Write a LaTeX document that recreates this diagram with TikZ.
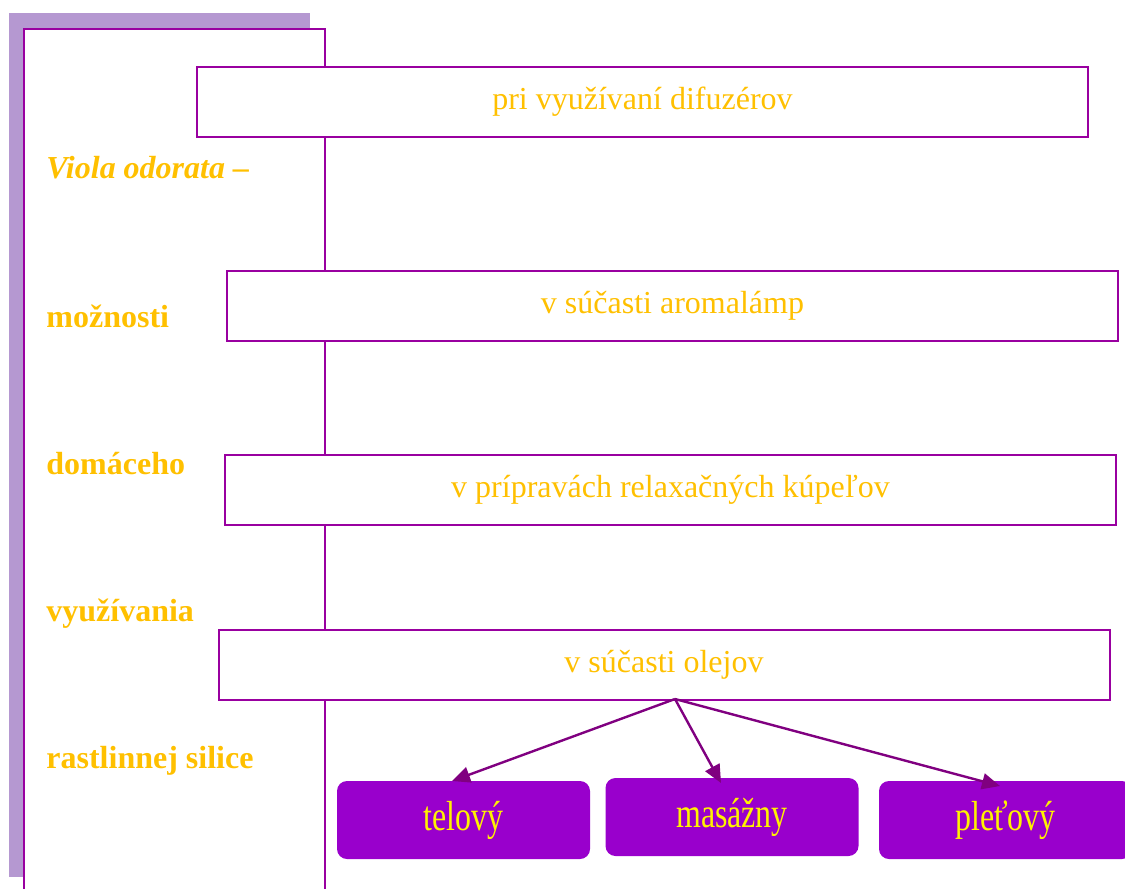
\documentclass[tikz,border=0pt]{standalone}
\usepackage{fontspec}
\setmainfont{Liberation Serif}
\usepackage{tikz}
\usetikzlibrary{arrows.meta, positioning}
\definecolor{framec}{HTML}{9900A0}
\definecolor{lavender}{HTML}{B598D1}
\definecolor{gold}{HTML}{FFC000}
\definecolor{leaffill}{HTML}{9900CC}
\definecolor{arrowc}{HTML}{800080}
\tikzset{
  usebox/.style={shape=rectangle, minimum height=35pt, minimum width=445.5pt, draw=framec, line width=1pt, fill=white, text=gold, font=\fontsize{16}{18}\selectfont},
  leaf/.style={shape=rectangle, rounded corners=5pt, minimum height=39pt, minimum width=126.5pt, fill=leaffill, text=yellow, font=\fontsize{21}{23}\selectfont},
  side/.style={anchor=base west, inner sep=0pt, text=gold, font=\fontsize{16}{18}\selectfont\bfseries},
  link/.style={draw=arrowc, line width=1.2pt, -{Triangle[length=9pt,width=8pt]}}
}
\begin{document}
\begin{tikzpicture}[x=0.5pt, y=-0.5pt]
\useasboundingbox (0,0) rectangle (1125,889);
\fill[lavender] (9,13) rectangle (310,877);
\draw[framec, line width=1pt, fill=white] (24,900) -- (24,29) -- (325,29) -- (325,900);
\node[side] (s0) at (46,178) {\itshape Viola odorata –};
\node[side] (s1) at (46,327) {možnosti};
\node[side] (s2) at (46,474) {domáceho};
\node[side] (s3) at (46,621) {využívania};
\node[side] (s4) at (46,768) {rastlinnej silice};
\foreach \x/\y/\txt [count=\i] in {642.5/102/pri využívaní difuzérov, 672.5/306/v súčasti aromalámp, 670.5/490/v prípravách relaxačných kúpeľov, 664/665/v súčasti olejov}{
	\node[usebox] (b\i) at (\x,\y) {\txt};
}
\node[leaf] (l1) at (463.5,820) {\scalebox{0.76}[1]{telový}};
\node[leaf] (l2) at (732,817) {\raisebox{3pt}{\scalebox{0.76}[1]{masážny}}};
\node[leaf] (l3) at (1005.5,820) {\scalebox{0.76}[1]{pleťový}};
\coordinate (fork) at (675,699);
\draw[link] (fork) -- (452,781);
\draw[link] (fork) -- (721,783);
\draw[link] (fork) -- (1000,786);
\end{tikzpicture}
\end{document}
